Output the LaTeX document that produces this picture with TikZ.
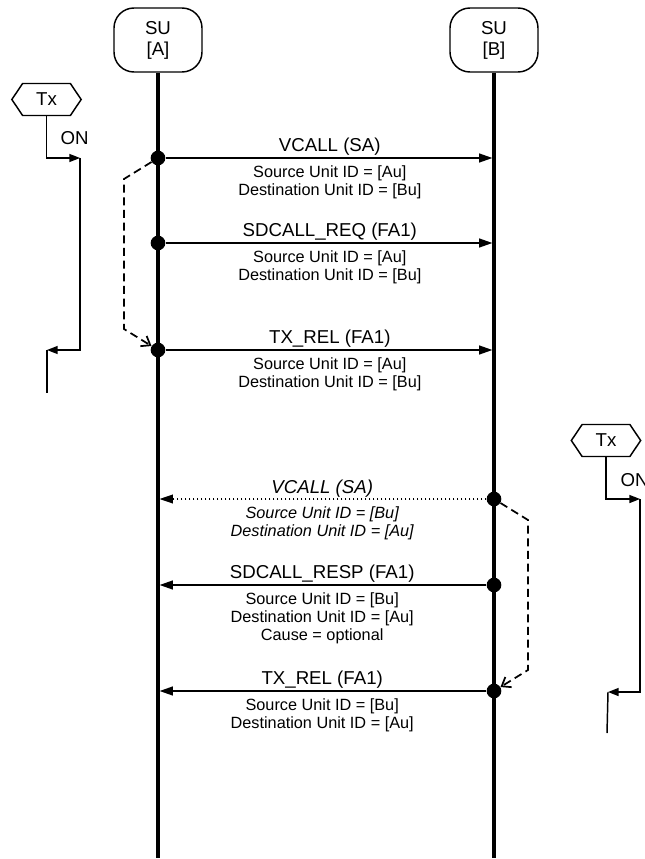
\documentclass[tikz,border=0pt]{standalone}
\usepackage{fontspec}
\setmainfont{Liberation Sans}
\usetikzlibrary{arrows.meta,positioning,calc,shapes.symbols}

\begin{document}
\begin{tikzpicture}[
  x=0.75pt, y=-0.75pt,
  font=\fontsize{14}{15.75}\selectfont,
  >={Triangle[length=10pt,width=6.5pt]},
  head/.style={draw, line width=1.1pt, rounded corners=15pt, align=center,
               minimum width=66pt, minimum height=48pt},
  txbox/.style={draw, line width=1.1pt, signal, signal to=west and east,
                signal pointer angle=112, minimum width=52pt,
                minimum height=24pt, inner sep=1pt},
  life/.style={line width=2.3pt},
  msg/.style={line width=1.5pt, ->, shorten >=1.1pt},
  msgdot/.style={line width=1pt, dotted, ->, shorten >=1.1pt},
  dot/.style={circle, fill, inner sep=0pt, minimum size=11pt},
  title/.style={above, inner sep=1pt},
  sub/.style={below=4pt, inner sep=1pt, align=center,
              font=\fontsize{12.2}{13.5}\selectfont},
  subit/.style={sub, font=\fontsize{12.2}{13.5}\selectfont\itshape},
  txline/.style={line width=1.1pt, -{Triangle[length=8pt,width=6pt]}},
  follow/.style={line width=1.3pt, dash pattern=on 6pt off 3.5pt,
                 -{Straight Barb[length=6pt,width=9pt]}}
]
\useasboundingbox (0,0) rectangle (645,859);

% Entities and lifelines
\node[head] (suA) at (158,40) {SU\\{[A]}};
\node[head] (suB) at (494,40) {SU\\{[B]}};
\coordinate (endA) at (158,858);
\coordinate (endB) at (494,858);
\draw[life] (suA) -- (endA);
\draw[life] (suB) -- (endB);

% A sends
\node[dot] (a1) at (158,158) {};
\node[dot] (a2) at (158,243) {};
\node[dot] (a3) at (158,350) {};
\coordinate (b1) at (494,158);
\coordinate (b2) at (494,243);
\coordinate (b3) at (494,350);

\draw[msg] (a1) -- node[title] (m1) {VCALL (SA)}
  node[sub] (m1s) {Source Unit ID = [Au]\\Destination Unit ID = [Bu]} (b1);
\draw[msg] (a2) -- node[title] (m2) {SDCALL\_REQ (FA1)}
  node[sub] (m2s) {Source Unit ID = [Au]\\Destination Unit ID = [Bu]} (b2);
\draw[msg] (a3) -- node[title] (m3) {TX\_REL (FA1)}
  node[sub] (m3s) {Source Unit ID = [Au]\\Destination Unit ID = [Bu]} (b3);
\draw[follow] (a1) -- ++(-34,21) -- ++(0,150) -- (a3);

% B answers
\node[dot] (b4) at (494,499) {};
\node[dot] (b5) at (494,585) {};
\node[dot] (b6) at (494,691) {};
\coordinate (a4) at (158,499);
\coordinate (a5) at (158,585);
\coordinate (a6) at (158,691);

\draw[msgdot] (b4) -- node[title, font=\fontsize{14}{15.75}\selectfont\itshape] (m4) {VCALL (SA)}
  node[subit] (m4s) {Source Unit ID = [Bu]\\Destination Unit ID = [Au]} (a4);
\draw[msg] (b5) -- node[title] (m5) {SDCALL\_RESP (FA1)}
  node[sub] (m5s) {Source Unit ID = [Bu]\\Destination Unit ID = [Au]\\Cause = optional} (a5);
\draw[msg] (b6) -- node[title] (m6) {TX\_REL (FA1)}
  node[sub] (m6s) {Source Unit ID = [Bu]\\Destination Unit ID = [Au]} (a6);
\draw[follow] (b4) -- ++(34,21) -- ++(0,150) -- (b6);

% Tx state of A
\node[txbox] (txA) at (46.5,99.5) {Tx};
\coordinate (onA) at (80,158);
\coordinate (offA) at (47,350);
\coordinate (endTxA) at (47,393);
\draw[txline] (txA) |- (onA);
\node[anchor=south west, inner sep=1pt] (onlblA) at (59,146) {ON};
\draw[txline] (onA) |- (offA);
\draw[line width=1.1pt] (offA) -- (endTxA);

% Tx state of B
\node[txbox] (txB) at (606,440.5) {Tx};
\coordinate (onB) at (640,499);
\coordinate (offB) at (608,692);
\coordinate (endTxB) at (607,733);
\draw[txline] (txB) |- (onB);
\node[anchor=south west, inner sep=1pt] (onlblB) at (619,488) {ON};
\draw[txline] (onB) |- (offB);
\draw[line width=1.1pt] (offB) -- (endTxB);

\end{tikzpicture}
\end{document}
